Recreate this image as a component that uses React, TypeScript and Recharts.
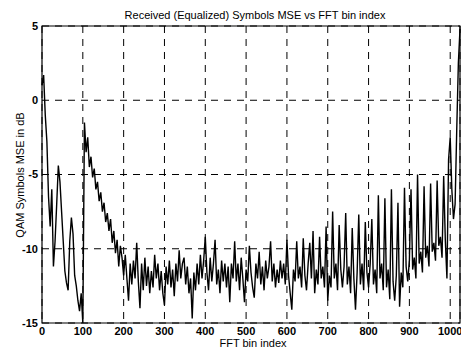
import React from 'react'
import {
  LineChart,
  Line,
  XAxis,
  YAxis,
  CartesianGrid,
  ReferenceArea,
} from 'recharts'

// MSE per FFT bin, one reading every 4 bins (0 .. 1024)
const binStep = 4

const mseDb: number[] = [
  // 0 - 100
  1.0, 1.7, -1.0, -2.8, -6.5, -8.5, -6.0, -11.2, -9.5, -7.0, -4.4, -5.5, -7.5,
  -9.5, -11.5, -12.3, -12.8, -9.5, -7.9, -9.0, -11.8, -12.5, -13.5, -14.2, -13.0, -15.0,
  // 104 - 200
  -1.5, -3.5, -2.5, -4.5, -3.8, -5.2, -4.6, -6.0, -5.5, -6.8, -6.2, -7.5,
  -6.9, -8.2, -7.6, -8.8, -8.0, -9.6, -8.8, -10.3, -9.4, -11.2, -9.8, -10.6, -11.8,
  // 204 - 300
  -10.4, -12.0, -13.5, -11.0, -12.4, -10.8, -12.0, -9.6, -12.2, -14.0, -11.0, -12.8,
  -10.6, -12.5, -11.2, -13.0, -11.5, -12.6, -10.4, -12.0, -11.0, -12.8, -11.5, -13.0, -13.8,
  // 304 - 400
  -11.2, -12.4, -10.8, -12.6, -11.4, -13.2, -11.0, -12.2, -10.1, -12.0, -11.0, -10.6,
  -12.4, -11.2, -13.0, -12.0, -14.7, -11.6, -12.8, -11.0, -12.4, -10.4, -12.0, -10.8, -9.2,
  // 404 - 500
  -11.6, -12.8, -10.6, -12.2, -11.0, -9.4, -12.4, -11.4, -13.0, -10.8, -12.2, -11.0,
  -12.6, -11.2, -13.6, -11.0, -12.0, -9.5, -12.2, -11.0, -12.8, -10.6, -12.0, -13.6, -11.4,
  // 504 - 600
  -12.2, -9.8, -11.6, -12.6, -13.3, -11.0, -12.0, -10.2, -12.4, -11.2, -12.8, -10.8,
  -12.0, -11.2, -9.5, -12.2, -11.0, -12.6, -11.4, -12.3, -10.8, -12.0, -11.0, -12.4, -9.4,
  // 604 - 700
  -11.8, -13.0, -14.1, -11.4, -12.2, -9.5, -12.0, -11.2, -12.6, -9.3, -11.8, -12.8,
  -11.0, -9.6, -12.0, -8.8, -13.0, -11.4, -12.4, -9.2, -12.0, -11.2, -12.6, -8.5, -13.5,
  // 704 - 800
  -11.8, -12.6, -7.5, -12.0, -11.0, -12.8, -8.4, -11.4, -12.6, -11.2, -7.6, -12.4,
  -11.2, -13.0, -8.6, -12.0, -14.1, -11.6, -7.7, -12.4, -11.0, -12.8, -8.2, -11.6, -12.6,
  // 804 - 900
  -11.0, -8.0, -12.4, -11.4, -13.0, -6.4, -12.0, -11.0, -12.8, -6.6, -12.6, -11.4,
  -13.4, -6.0, -12.2, -13.5, -11.8, -6.9, -13.9, -11.6, -12.6, -5.9, -11.2, -12.2, -10.8,
  // 904 - 1000
  -6.0, -11.4, -10.6, -12.0, -5.0, -11.0, -10.2, -11.6, -5.8, -10.6, -9.8, -11.2,
  -5.6, -10.2, -9.6, -10.8, -5.4, -9.8, -9.2, -10.6, -5.1, -9.4, -12.0, -4.0, -2.5,
  // 1004 - 1024
  -6.0, -8.0, -7.0, -2.0, 2.5, 4.8,
]

const xTicks = [0, 100, 200, 300, 400, 500, 600, 700, 800, 900, 1000]
const yTicks = [-15, -10, -5, 0, 5]

const data = mseDb.map((v, i) => ({ bin: i * binStep, mse: v }))

const font = '"Liberation Sans", Arial, Helvetica, sans-serif'

const App: React.FC = () => {
  return (
    <div style={{ position: 'relative', width: 461, height: 348, fontFamily: font, color: '#000' }}>
      <style>{'body{margin:0;background:#fff}'}</style>
      <LineChart
        width={461}
        height={348}
        data={data}
        margin={{ top: 26, right: 1, bottom: 0, left: 0 }}
      >
        <CartesianGrid stroke="#000" strokeDasharray="7 6" strokeWidth={1} />
        <XAxis
          dataKey="bin"
          type="number"
          domain={[0, 1024]}
          ticks={xTicks}
          height={25}
          tickLine={false}
          axisLine={false}
          tickSize={0}
          tickMargin={4}
          tick={{ fill: '#000', fontSize: 11, fontWeight: 'bold', fontFamily: font }}
          interval={0}
        />
        <YAxis
          type="number"
          domain={[-15, 5]}
          ticks={yTicks}
          width={42}
          tickLine={false}
          axisLine={false}
          tickSize={0}
          tickMargin={4}
          tick={{ fill: '#000', fontSize: 11, fontWeight: 'bold', fontFamily: font }}
          interval={0}
          allowDataOverflow
        />
        <ReferenceArea
          x1={0}
          x2={1024}
          y1={-15}
          y2={5}
          fill="none"
          stroke="#000"
          strokeWidth={1.2}
          ifOverflow="extendDomain"
        />
        <Line
          type="linear"
          dataKey="mse"
          stroke="#000"
          strokeWidth={1.4}
          dot={false}
          isAnimationActive={false}
        />
      </LineChart>
      <div
        style={{
          position: 'absolute',
          left: 255,
          top: 10,
          transform: 'translateX(-50%)',
          fontSize: 11,
          lineHeight: '11px',
          whiteSpace: 'nowrap',
        }}
      >
        Received (Equalized) Symbols MSE vs FFT bin index
      </div>
      <div
        style={{
          position: 'absolute',
          left: 20,
          top: 175,
          transform: 'translate(-50%, -50%) rotate(-90deg)',
          fontSize: 11,
          lineHeight: '11px',
          whiteSpace: 'nowrap',
        }}
      >
        QAM Symbols MSE in dB
      </div>
      <div
        style={{
          position: 'absolute',
          left: 253,
          top: 338,
          transform: 'translateX(-50%)',
          fontSize: 11,
          lineHeight: '11px',
          whiteSpace: 'nowrap',
        }}
      >
        FFT bin index
      </div>
    </div>
  )
}

export default App
